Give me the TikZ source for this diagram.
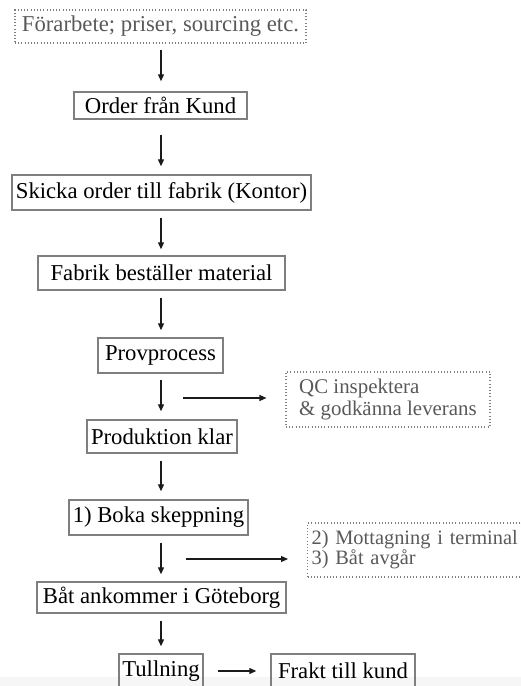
\documentclass[tikz,border=0pt]{standalone}
\usepackage{fontspec}
\setmainfont{Liberation Serif}
\usetikzlibrary{arrows.meta,calc}
\definecolor{boxline}{HTML}{7F7F7F}
\definecolor{dottext}{HTML}{595959}
\definecolor{arrcol}{HTML}{1A1A1A}
\tikzset{
  stepbox/.style={draw=boxline, line width=1.4pt, inner sep=0pt, align=center,
    text=black, font=\fontsize{22.7}{24}\selectfont},
  notebox/.style={draw=boxline, line width=1.1pt, dash pattern=on 1pt off 2.2pt,
    inner ysep=0pt, text=dottext, font=\fontsize{20.9}{22}\selectfont},
  arr/.style={draw=arrcol, line width=1.2pt, -{Triangle[length=7pt,width=6pt]}},
}
\begin{document}
\begin{tikzpicture}[x=1pt,y=-1pt]
\useasboundingbox (0,0) rectangle (521,686);
\fill[gray!7] (0,677) rectangle (521,686);
\coordinate (axis) at (161,0);
% nodes
\node[notebox, minimum width=291, minimum height=33, inner xsep=0pt, align=center,
  font=\fontsize{22.7}{24}\selectfont] (pre) at (160.5,26.5) {Förarbete; priser, sourcing etc.};
\node[stepbox, minimum width=173, minimum height=27] (order) at (160.5,105.5) {Order från Kund};
\node[stepbox, minimum width=299, minimum height=35] (skicka) at (161.5,192.5) {Skicka order till fabrik (Kontor)};
\node[stepbox, minimum width=247, minimum height=34] (fabrik) at (161.5,273) {Fabrik beställer material};
\node[stepbox, minimum width=125, minimum height=35] (prov) at (160.5,355.5) {Provprocess};
\node[stepbox, minimum width=150, minimum height=33] (prod) at (162,436.5) {Produktion klar};
\node[stepbox, minimum width=179, minimum height=35] (boka) at (158.5,517.5) {1) Boka skeppning};
\node[stepbox, minimum width=249, minimum height=31] (bat) at (161.5,597.5) {Båt ankommer i Göteborg};
\node[stepbox, minimum width=84, minimum height=34] (tull) at (161,671) {Tullning};
\node[stepbox, minimum width=144, minimum height=34] (frakt) at (343,671) {Frakt till kund};
\node[notebox, minimum width=204, minimum height=55, inner xsep=0pt, align=left] (qc) at (388,399.5) {QC inspektera\\\& godkänna leverans};
\node[notebox, anchor=west, minimum height=54, inner xsep=4pt, text width=225pt, align=left,
  font=\fontsize{20.4}{18.5}\selectfont] (ship) at (307,550) {2) Mottagning i terminal\\3) Båt avgår};
% vertical arrows
\draw[arr, shorten <=6, shorten >=10] (pre.south -| axis) -- (order.north -| axis);
\draw[arr, shorten <=15, shorten >=8] (order.south -| axis) -- (skicka.north -| axis);
\draw[arr, shorten <=7, shorten >=6] (skicka.south -| axis) -- (fabrik.north -| axis);
\draw[arr, shorten <=7, shorten >=7] (fabrik.south -| axis) -- (prov.north -| axis);
\draw[arr, shorten <=6, shorten >=8] (prov.south -| axis) -- (prod.north -| axis);
\draw[arr, shorten <=7, shorten >=8] (prod.south -| axis) -- (boka.north -| axis);
\draw[arr, shorten <=7, shorten >=7] (boka.south -| axis) -- (bat.north -| axis);
\draw[arr, shorten <=7, shorten >=7] (bat.south -| axis) -- (tull.north -| axis);
% side arrows
\coordinate (qcs) at (183,398);
\draw[arr, shorten >=19] (qcs) -- (qcs -| qc.west);
\coordinate (shs) at (186,559);
\draw[arr, shorten >=19] (shs) -- (shs -| ship.west);
\draw[arr, shorten <=14, shorten >=14] (tull.east) -- (frakt.west);
\end{tikzpicture}
\end{document}
